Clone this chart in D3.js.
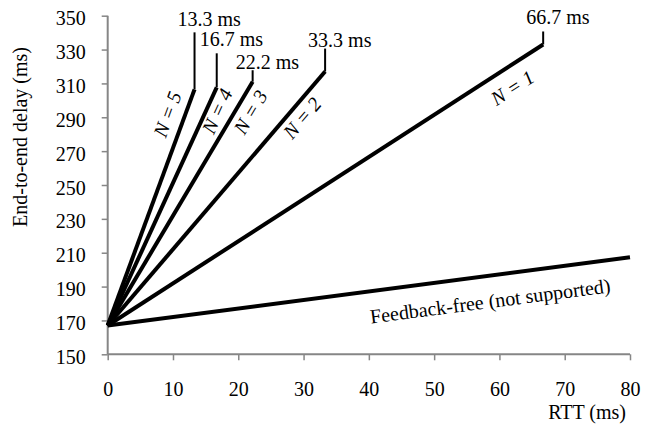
<!DOCTYPE html>
<html>
<head>
<meta charset="utf-8">
<script src="https://cdn.jsdelivr.net/npm/d3@7/dist/d3.min.js"></script>
<style>
  html, body { margin: 0; padding: 0; background: #fff; }
  svg { display: block; }
  svg text { font-family: 'Liberation Serif' !important; }
</style>
</head>
<body>
<svg id="chart" width="655" height="426"></svg>
<script>
// End-to-end delay vs RTT for each feedback configuration
const seriesNames = ["N = 1", "N = 2", "N = 3", "N = 4", "N = 5", "Feedback-free (not supported)"];
const rttStart = 0;
const delayStart = 167;
const rttEnd = [66.7, 33.3, 22.2, 16.7, 13.3, 80];
const delayEnd = [333, 317, 311, 307.7, 306.5, 207.3];
const hasCallout = [true, true, true, true, true, false];

const xTicks = [0, 10, 20, 30, 40, 50, 60, 70, 80];
const yTicks = [150, 170, 190, 210, 230, 250, 270, 290, 310, 330, 350];
const xTitle = "RTT (ms)";
const yTitle = "End-to-end delay (ms)";

// label placement along each line: fraction of length, perpendicular offset (px)
const labelAlong = [0.905, 0.85, 0.904, 0.918, 0.87, 0.726];
const labelSide = [19.6, 12.6, 13.5, 10.2, -17.1, 25.2];
// callout layout: text baseline lift above line end, gap between text and leader (px)
const calloutLift = [20, 25, 13, 41, 63, 0];
const calloutGap = [7, 2, 1.5, 7, 6, 0];

const FONT = "'Liberation Serif'";
const svg = d3.select("#chart");
const x = d3.scaleLinear().domain([0, 80]).range([107.7, 630]);
const y = d3.scaleLinear().domain([150, 350]).range([354.3, 15.7]);

const axisColor = "#868686";

function styleText(sel) {
  return sel.style("font-family", FONT).style("font-size", "20px");
}

// y axis
const gy = svg.append("g")
  .attr("transform", `translate(${x(0)},0)`)
  .call(d3.axisLeft(y).tickValues(yTicks).tickSize(6).tickPadding(16).tickFormat(d3.format("d")));
// x axis
const gx = svg.append("g")
  .attr("transform", `translate(0,${y(150)})`)
  .call(d3.axisBottom(x).tickValues(xTicks).tickSize(6).tickPadding(22).tickFormat(d3.format("d")));

[gx, gy].forEach(g => {
  g.attr("font-family", null).attr("font-size", null);
  g.select(".domain").attr("stroke", axisColor).attr("stroke-width", 2);
  g.selectAll(".tick line").attr("stroke", axisColor).attr("stroke-width", 1.5);
  styleText(g.selectAll(".tick text")).attr("fill", "#000");
});
gy.selectAll(".tick text").attr("dy", "0.45em");
gx.select(".domain").attr("d", `M${x(0)},0H${x(80)}`);
gy.select(".domain").attr("d", `M0,${y(350)}V${y(150)}`);

// axis titles
styleText(svg.append("text"))
  .attr("x", 626).attr("y", 419)
  .attr("text-anchor", "end")
  .text(xTitle);
styleText(svg.append("text"))
  .attr("transform", "translate(27,137) rotate(-90)")
  .attr("text-anchor", "middle")
  .text(yTitle);

// series lines
const series = seriesNames.map((name, i) => ({
  name, i,
  x0: x(rttStart), y0: y(delayStart),
  x1: x(rttEnd[i]), y1: y(delayEnd[i])
}));

svg.append("g").selectAll("line")
  .data(series)
  .join("line")
  .attr("x1", d => d.x0).attr("y1", d => d.y0)
  .attr("x2", d => d.x1).attr("y2", d => d.y1)
  .attr("stroke", "#000")
  .attr("stroke-width", 4);

// series labels rotated along each line
series.forEach(d => {
  const dx = d.x1 - d.x0, dy = d.y1 - d.y0;
  const len = Math.hypot(dx, dy);
  const ux = dx / len, uy = dy / len;
  const nx = -uy, ny = ux;
  const t = labelAlong[d.i] * len, o = labelSide[d.i];
  const cx = d.x0 + ux * t + nx * o;
  const cy = d.y0 + uy * t + ny * o;
  const ang = Math.atan2(dy, dx) * 180 / Math.PI;
  const lbl = styleText(svg.append("text"))
    .attr("transform", `translate(${cx},${cy}) rotate(${ang})`)
    .attr("text-anchor", "middle")
    .attr("dominant-baseline", "central")
    .text(d.name);
  if (d.name.startsWith("N")) lbl.style("font-style", "italic");
});

// RTT callouts at the end of each feedback line
series.filter(d => hasCallout[d.i]).forEach(d => {
  const base = d.y1 - calloutLift[d.i];
  svg.append("line")
    .attr("x1", d.x1).attr("x2", d.x1)
    .attr("y1", d.y1).attr("y2", base + calloutGap[d.i])
    .attr("stroke", "#000").attr("stroke-width", 2);
  styleText(svg.append("text"))
    .attr("x", d.x1 - 17).attr("y", base)
    .text(d3.format(".1f")(rttEnd[d.i]) + " ms");
});
</script>
</body>
</html>
